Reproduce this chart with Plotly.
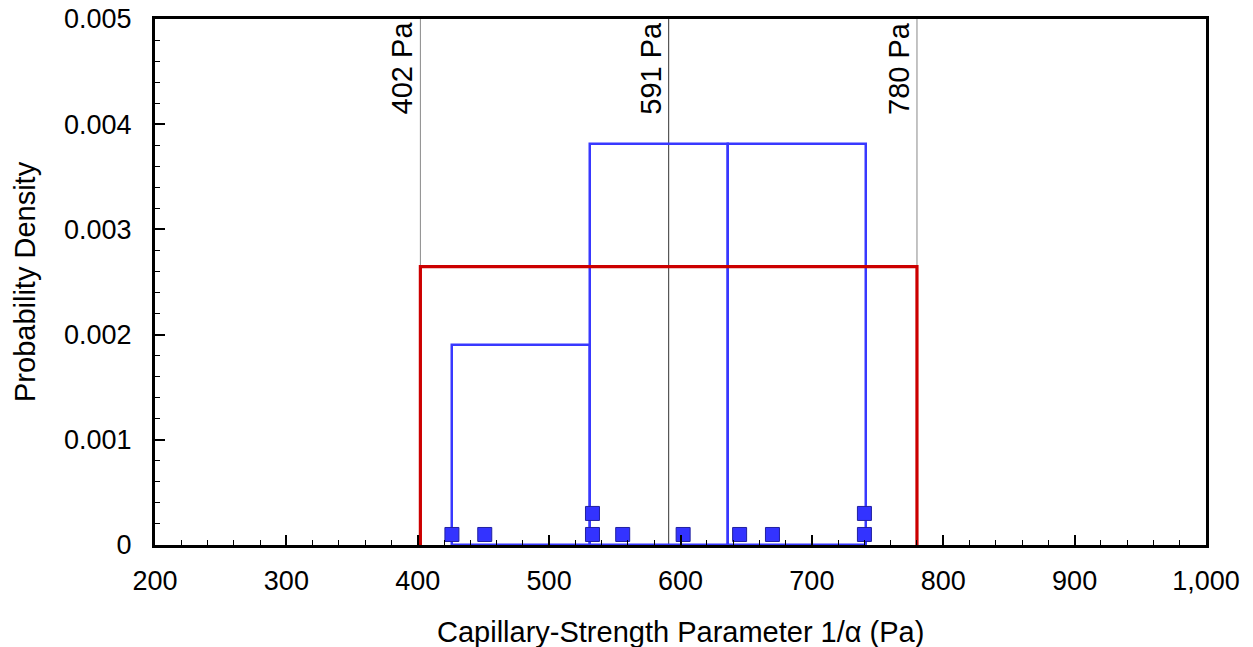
import plotly.graph_objects as go

# Data
samples = [426, 451, 533, 533, 556, 602, 645, 670, 740, 740]
sample_y = [0.0001, 0.0001, 0.0001, 0.0003, 0.0001, 0.0001, 0.0001, 0.0001, 0.0001, 0.0003]
hist_start = 426
hist_end = 741
hist_size = 105
uniform_lo = 402
uniform_hi = 780
uniform_density = 1.0 / (uniform_hi - uniform_lo)
ref_lines = [402, 591, 780]
ref_labels = ["402 Pa", "591 Pa", "780 Pa"]
ref_colors = ["#888888", "#333333", "#888888"]
x_title = "Capillary-Strength Parameter 1/α (Pa)"
y_title = "Probability Density"

FONT = "Liberation Sans, Arial, sans-serif"

fig = go.Figure()

# Uniform distribution (red)
fig.add_trace(go.Scatter(
    x=[uniform_lo, uniform_lo, uniform_hi, uniform_hi],
    y=[0, uniform_density, uniform_density, 0],
    mode="lines", line=dict(color="#CC0000", width=3.2),
    hoverinfo="skip", showlegend=False))

# Histogram of samples (blue outlines)
fig.add_trace(go.Histogram(
    x=samples, histnorm="probability density",
    xbins=dict(start=hist_start, end=hist_end, size=hist_size),
    marker=dict(color="rgba(0,0,0,0)", line=dict(color="#3838FF", width=2.5)),
    showlegend=False))

# Sample markers
fig.add_trace(go.Scatter(
    x=samples, y=sample_y, mode="markers",
    marker=dict(symbol="square", size=14, color="#3333FF",
                line=dict(color="#2020A0", width=1)),
    cliponaxis=False, showlegend=False))

for xv, lab, col in zip(ref_lines, ref_labels, ref_colors):
    fig.add_shape(type="line", x0=xv, x1=xv, y0=0, y1=1, xref="x", yref="paper",
                  line=dict(color=col, width=1), layer="below")
    fig.add_annotation(x=xv, y=0.999, xref="x", yref="paper", text=lab,
                       textangle=-90, showarrow=False, xanchor="right", yanchor="top",
                       xshift=0, font=dict(family=FONT, size=29, color="black"))

# Axis titles
fig.add_annotation(x=0.5, y=0, xref="paper", yref="paper", text=x_title,
                   showarrow=False, xanchor="center", yanchor="middle", yshift=-87,
                   font=dict(family=FONT, size=29, color="black"))
fig.add_annotation(x=0, y=0.5, xref="paper", yref="paper", text=y_title,
                   textangle=-90, showarrow=False, xanchor="center", yanchor="middle",
                   xshift=-130, font=dict(family=FONT, size=29, color="black"))

fig.update_layout(
    width=1253, height=647,
    margin=dict(l=155, r=47, t=19, b=102),
    plot_bgcolor="white", paper_bgcolor="white",
    bargap=0,
    font=dict(family=FONT, color="black"),
    xaxis=dict(range=[200, 1000], dtick=100, tick0=200,
               showgrid=False, zeroline=False, automargin=False,
               showline=True, linecolor="black", linewidth=3, mirror=True,
               ticks="inside", ticklen=10, tickwidth=2, tickcolor="black",
               minor=dict(ticks="inside", ticklen=5, tickwidth=1, dtick=20, tickcolor="black"),
               separatethousands=True, ticklabelstandoff=10,
               ticklabeloverflow="allow",
               tickfont=dict(family=FONT, size=27)),
    yaxis=dict(range=[0, 0.005], dtick=0.001, tick0=0,
               showgrid=False, zeroline=False, automargin=False,
               showline=True, linecolor="black", linewidth=3, mirror=True,
               ticks="inside", ticklen=10, tickwidth=2, tickcolor="black",
               minor=dict(ticks="inside", ticklen=5, tickwidth=1, dtick=0.0002, tickcolor="black"),
               ticklabelstandoff=15, ticklabeloverflow="allow",
               tickfont=dict(family=FONT, size=27)),
)

fig.write_html("out.html", config={"displayModeBar": False},
               post_script="document.body.style.margin='0';document.body.style.overflow='hidden';")
